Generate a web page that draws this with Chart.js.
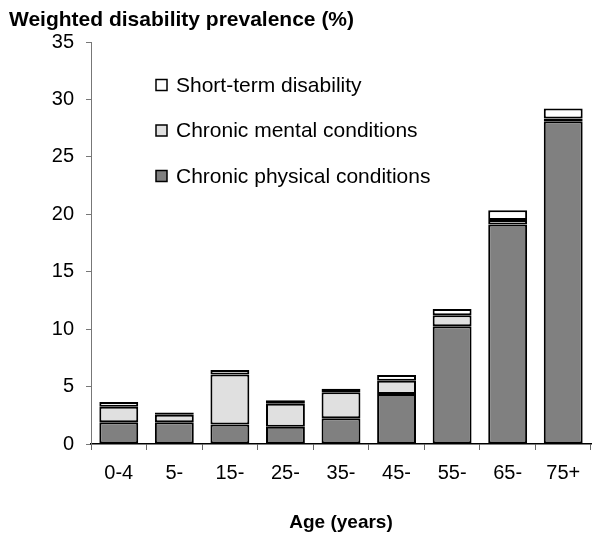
<!DOCTYPE html>
<html>
<head>
<meta charset="utf-8">
<script src="https://cdn.jsdelivr.net/npm/chart.js@4/dist/chart.umd.min.js"></script>
<style>
  html, body { margin: 0; padding: 0; background: #fff; }
  #wrap { width: 592px; height: 538px; }
</style>
</head>
<body>
<div id="wrap"><canvas id="myChart" width="592" height="538"></canvas></div>
<script>
// age groups along the x axis
const ageGroups = ["0-4", "5-", "15-", "25-", "35-", "45-", "55-", "65-", "75+"]
// stacked components (%), bottom to top
const physical = [1.9, 1.9, 1.7, 1.5, 2.25, 4.35, 10.25, 19.1, 28.1]
const mental = [1.35, 0.65, 4.35, 2.0, 2.25, 1.15, 0.95, 0.4, 0.25]
const shortTerm = [0.4, 0.2, 0.4, 0.3, 0.3, 0.5, 0.55, 0.85, 0.85]
const yTicks = [0, 5, 10, 15, 20, 25, 30, 35]

const FONT = "'Liberation Sans', Arial, sans-serif"

// legend drawn inside the plot, top entry = top of stack
const legendItems = [
  { label: "Short-term disability", color: "#ffffff" },
  { label: "Chronic mental conditions", color: "#e0e0e0" },
  { label: "Chronic physical conditions", color: "#808080" }
]

const extras = {
  id: "extras",
  afterDraw(chart) {
    const ctx = chart.ctx
    ctx.save()
    // y title at the top left
    ctx.fillStyle = "#000"
    ctx.font = "bold 21px " + FONT
    ctx.textAlign = "left"
    ctx.textBaseline = "middle"
    ctx.fillText("Weighted disability prevalence (%)", 9, 20)
    // legend
    ctx.font = "21px " + FONT
    legendItems.forEach((it, i) => {
      const y = 85 + i * 45.5
      ctx.fillStyle = it.color
      ctx.fillRect(156, y - 5.5, 11, 11)
      ctx.strokeStyle = "#000"
      ctx.lineWidth = 1.5
      ctx.strokeRect(156, y - 5.5, 11, 11)
      ctx.fillStyle = "#000"
      ctx.fillText(it.label, 176, y + 1)
    })
    ctx.restore()
  }
}

const ctx = document.getElementById("myChart").getContext("2d")
new Chart(ctx, {
  type: "bar",
  data: {
    labels: ageGroups,
    datasets: [
      { label: "Chronic physical conditions", data: physical, backgroundColor: "#808080" },
      { label: "Chronic mental conditions", data: mental, backgroundColor: "#e0e0e0" },
      { label: "Short-term disability", data: shortTerm, backgroundColor: "#ffffff" }
    ].map(d => Object.assign(d, {
      borderColor: "#000",
      borderWidth: 2,
      borderSkipped: false,
      categoryPercentage: 1,
      barPercentage: 0.7
    }))
  },
  options: {
    responsive: false,
    animation: false,
    layout: { padding: { top: 42, right: 1, left: 0, bottom: 0 } },
    plugins: { legend: { display: false }, tooltip: { enabled: false } },
    scales: {
      x: {
        stacked: true,
        grid: { drawOnChartArea: false, tickLength: 6, color: "#666", offset: true },
        border: { color: "#000", width: 1.5 },
        ticks: { color: "#000", font: { family: FONT, size: 20 }, padding: 11 },
        title: { display: true, text: "Age (years)", color: "#000",
                 font: { family: FONT, size: 19, weight: "bold" }, padding: { top: 0, bottom: 4 } },
        afterFit(s) { s.height = 94 }
      },
      y: {
        stacked: true,
        min: 0,
        max: 35,
        afterBuildTicks(s) { s.ticks = yTicks.map(v => ({ value: v })) },
        grid: { drawOnChartArea: false, tickLength: 5, color: "#777" },
        border: { color: "#777", width: 1 },
        ticks: { color: "#000", font: { family: FONT, size: 20 }, padding: 12 },
        afterFit(s) { s.width = 91 }
      }
    }
  },
  plugins: [extras]
})
</script>
</body>
</html>
